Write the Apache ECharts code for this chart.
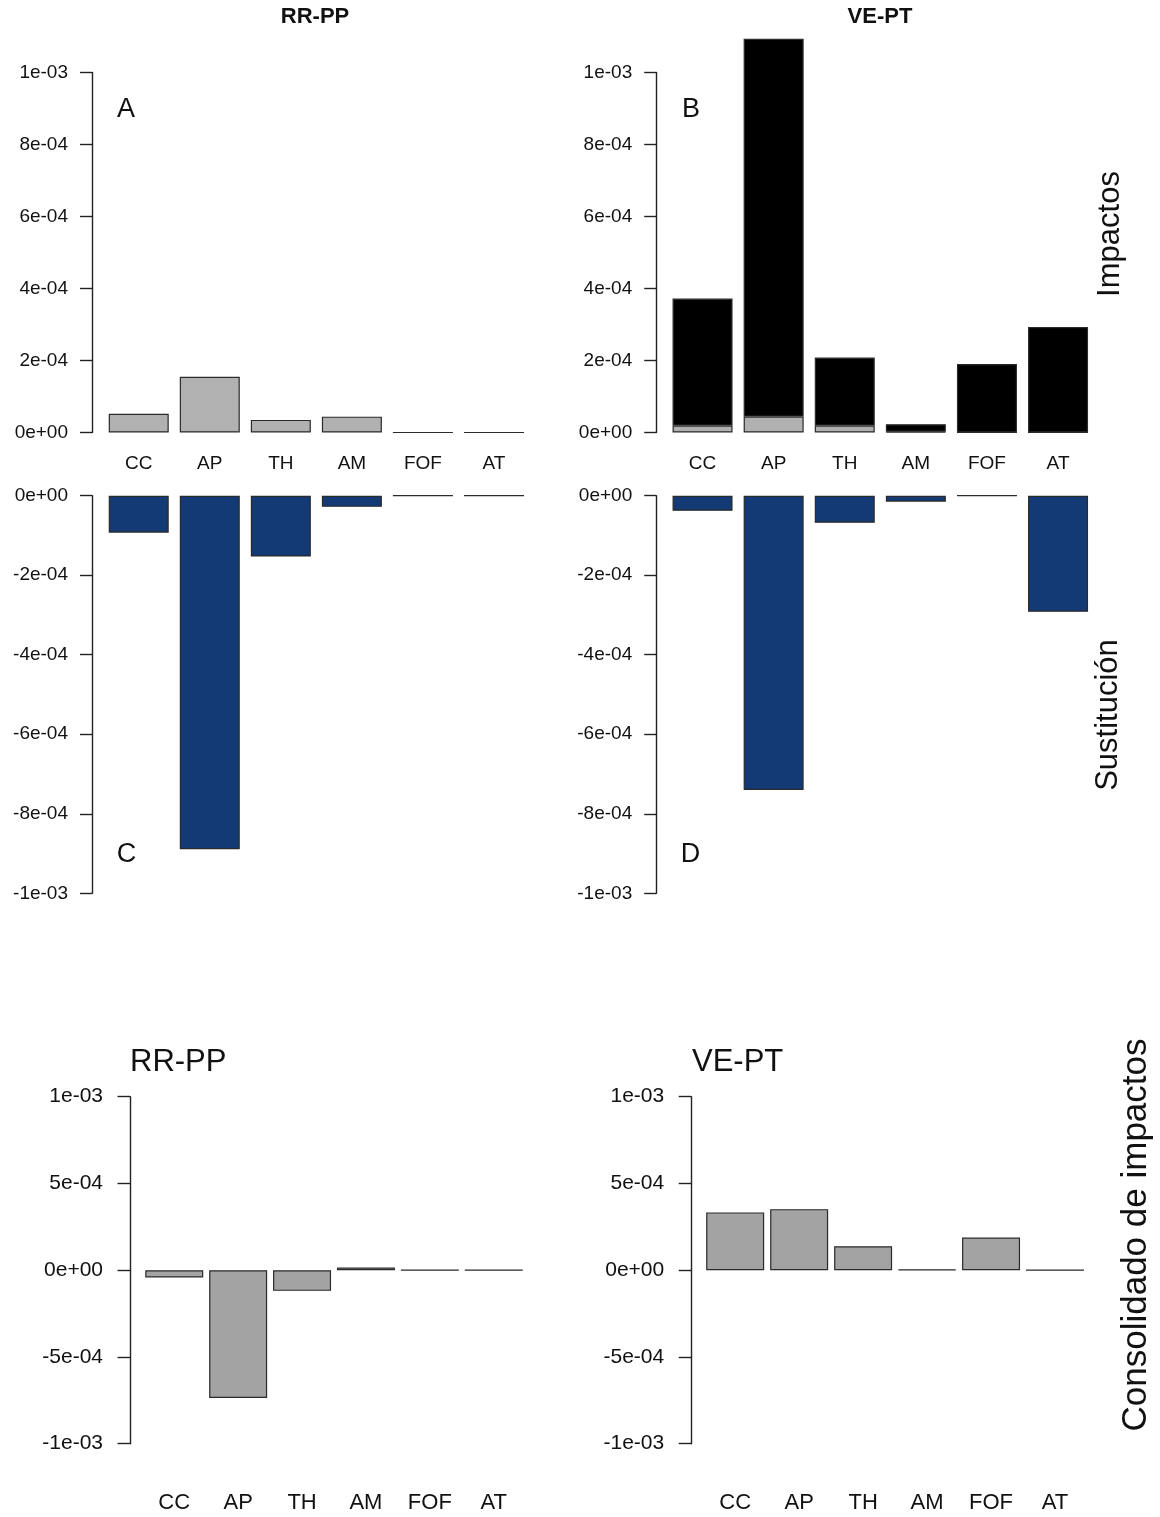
<!DOCTYPE html>
<html>
<head>
<meta charset="utf-8">
<script src="https://cdn.jsdelivr.net/npm/echarts@6/dist/echarts.min.js"></script>
<style>
html,body{margin:0;padding:0;background:#fff;}
#chart{width:1160px;height:1517px;}
</style>
</head>
<body>
<div id="chart"></div>
<script>
// ---- data ----
var categories = ['CC', 'AP', 'TH', 'AM', 'FOF', 'AT'];

// Panel A (RR-PP impacts)
var impactsRRPP = [5.2e-5, 1.55e-4, 3.5e-5, 4.4e-5, 0, 0];
// Panel B (VE-PT impacts, stacked: grey base + black top)
var impactsVEPTgrey  = [1.9e-5, 4.4e-5, 1.9e-5, 2e-6, 0, 0];
var impactsVEPTblack = [3.53e-4, 1.05e-3, 1.89e-4, 2.1e-5, 1.9e-4, 2.93e-4];
// Panel C (RR-PP substitution)
var substRRPP = [-9.3e-5, -8.89e-4, -1.53e-4, -2.8e-5, 0, 0];
// Panel D (VE-PT substitution)
var substVEPT = [-3.8e-5, -7.40e-4, -6.8e-5, -1.5e-5, 0, -2.92e-4];
// Consolidated
var consRRPP = [-4.2e-5, -7.37e-4, -1.19e-4, 1.5e-5, 0, 0];
var consVEPT = [3.33e-4, 3.52e-4, 1.38e-4, 4e-6, 1.88e-4, 0];

// tick labels (from axis min upwards)
var ticksImpact = ['0e+00', '2e-04', '4e-04', '6e-04', '8e-04', '1e-03'];
var ticksSubst  = ['-1e-03', '-8e-04', '-6e-04', '-4e-04', '-2e-04', '0e+00'];
var ticksCons   = ['-1e-03', '-5e-04', '0e+00', '5e-04', '1e-03'];

// ---- chart ----
var FONT = '"Liberation Sans", Arial, Helvetica, sans-serif';
var TXT = '#111';
var GREY_TOP = '#b1b1b1';
var GREY_BOT = '#a3a3a3';
var BLUE = '#133a75';
var EDGE = '#2a2a2a';

function mkTickFmt(arr) {
  return function (v, i) { return arr[i] !== undefined ? arr[i] : ''; };
}

var grids = [
  {left: 103.2, top: 72.5, width: 426.3, height: 360},   // A
  {left: 667.0, top: 72.5, width: 426.6, height: 360},   // B
  {left: 103.2, top: 495.7, width: 426.3, height: 397.6}, // C
  {left: 667.0, top: 495.7, width: 426.6, height: 397.6}, // D
  {left: 142.3, top: 1096.7, width: 383.4, height: 347},  // E
  {left: 703.2, top: 1096.7, width: 383.8, height: 347}   // F
];
var yOffsets = [11.2, 10.8, 11.2, 10.8, 12.3, 12.0];
var yRanges = [
  {min: 0, max: 1e-3, interval: 2e-4, ticks: ticksImpact},
  {min: 0, max: 1e-3, interval: 2e-4, ticks: ticksImpact},
  {min: -1e-3, max: 0, interval: 2e-4, ticks: ticksSubst},
  {min: -1e-3, max: 0, interval: 2e-4, ticks: ticksSubst},
  {min: -1e-3, max: 1e-3, interval: 5e-4, ticks: ticksCons},
  {min: -1e-3, max: 1e-3, interval: 5e-4, ticks: ticksCons}
];

var xAxes = [], yAxes = [];
for (var i = 0; i < 6; i++) {
  var isTop = i < 2, isSub = (i === 2 || i === 3), isBot = i >= 4;
  xAxes.push({
    type: 'category', gridIndex: i, data: categories,
    position: 'bottom',
    axisLine: {show: false}, axisTick: {show: false}, splitLine: {show: false},
    axisLabel: {
      show: !isSub,
      margin: isBot ? 48 : 22,
      fontFamily: FONT, fontSize: isBot ? 22 : 19, color: TXT
    }
  });
  var r = yRanges[i];
  yAxes.push({
    type: 'value', gridIndex: i, min: r.min, max: r.max, interval: r.interval,
    offset: yOffsets[i],
    axisLine: {show: true, lineStyle: {color: '#222', width: 1.4}},
    axisTick: {show: true, length: isBot ? 12.5 : 12, lineStyle: {color: '#222', width: 1.4}},
    splitLine: {show: false},
    axisLabel: {
      formatter: mkTickFmt(r.ticks),
      margin: isBot ? 27 : 24,
      fontFamily: FONT, fontSize: isBot ? 21 : 19, color: TXT
    }
  });
}

function barSeries(idx, data, color, width, extra) {
  var s = {
    type: 'bar', xAxisIndex: idx, yAxisIndex: idx, data: data,
    barWidth: width, clip: false,
    itemStyle: {color: color, borderColor: EDGE, borderWidth: 1.2},
    emphasis: {disabled: true}
  };
  if (extra) for (var k in extra) s[k] = extra[k];
  return s;
}

var series = [
  barSeries(0, impactsRRPP, GREY_TOP, 60),
  barSeries(1, impactsVEPTgrey, GREY_TOP, 60, {stack: 'b'}),
  barSeries(1, impactsVEPTblack, '#000', 60, {stack: 'b'}),
  barSeries(2, substRRPP, BLUE, 60),
  barSeries(3, substVEPT, BLUE, 60),
  barSeries(4, consRRPP, GREY_BOT, 58),
  barSeries(5, consVEPT, GREY_BOT, 58)
];

function txt(text, x, y, size, opts) {
  opts = opts || {};
  return {
    type: 'text', x: x, y: y, rotation: opts.rotation || 0,
    style: {
      text: text, fill: TXT, fontFamily: FONT, fontSize: size,
      fontWeight: opts.bold ? 'bold' : 'normal',
      align: opts.align || 'center', verticalAlign: 'middle'
    },
    silent: true
  };
}

var graphics = [
  txt('RR-PP', 315, 17, 22, {bold: true}),
  txt('VE-PT', 880, 17, 22, {bold: true}),
  txt('A', 126, 110, 27),
  txt('B', 691, 110, 27),
  txt('C', 126.5, 855, 27),
  txt('D', 690.5, 855, 27),
  txt('Impactos', 1110, 234, 31, {rotation: Math.PI / 2}),
  txt('Sustitución', 1108, 715, 31, {rotation: Math.PI / 2}),
  txt('Consolidado de impactos', 1136, 1235, 35, {rotation: Math.PI / 2}),
  txt('RR-PP', 130, 1062, 31, {align: 'left'}),
  txt('VE-PT', 692, 1062, 31, {align: 'left'})
];

var chart = echarts.init(document.getElementById('chart'), null, {renderer: 'canvas'});
chart.setOption({
  animation: false,
  backgroundColor: '#fff',
  grid: grids,
  xAxis: xAxes,
  yAxis: yAxes,
  series: series,
  graphic: graphics
});
</script>
</body>
</html>
